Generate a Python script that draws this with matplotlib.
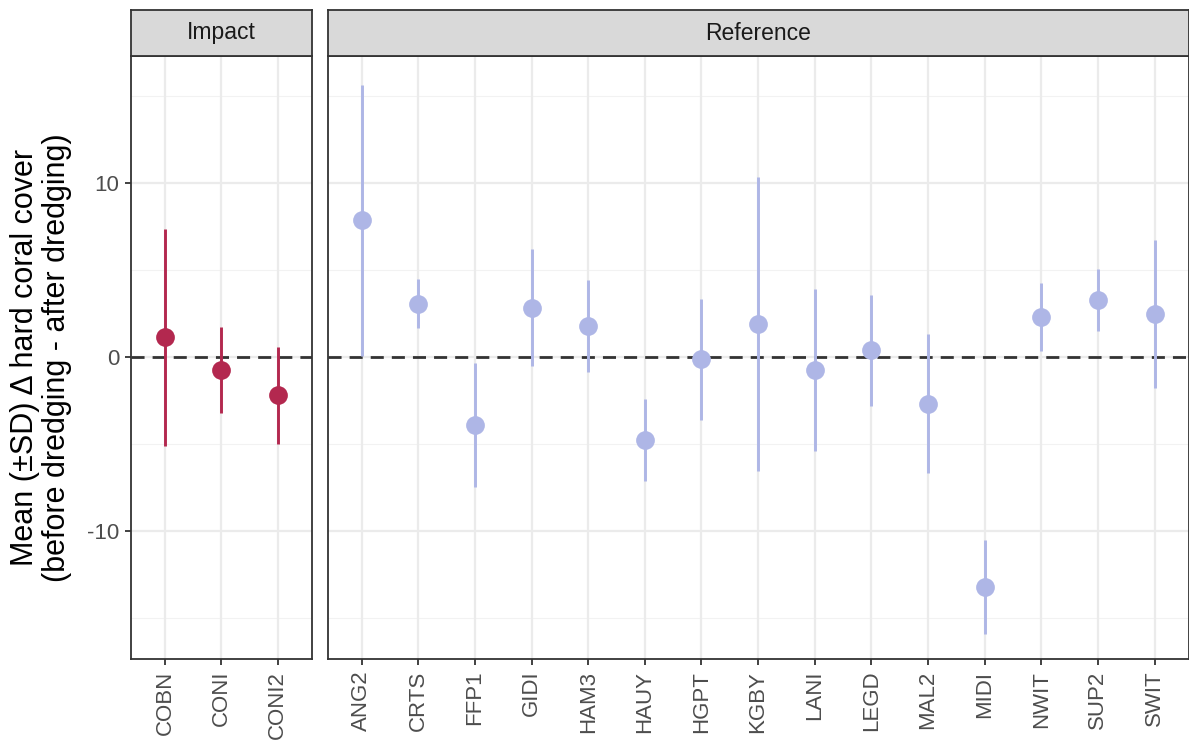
import matplotlib
matplotlib.use("Agg")
import matplotlib.pyplot as plt
import numpy as np

plt.rcParams['font.family'] = ['Liberation Sans', 'DejaVu Sans']

impact_sites = ["COBN", "CONI", "CONI2"]
impact_mean = [1.13, -0.74, -2.2]
impact_sd = [6.24, 2.47, 2.78]

ref_sites = ["ANG2", "CRTS", "FFP1", "GIDI", "HAM3", "HAUY", "HGPT", "KGBY",
             "LANI", "LEGD", "MAL2", "MIDI", "NWIT", "SUP2", "SWIT"]
ref_mean = [7.85, 3.07, -3.9, 2.82, 1.78, -4.76, -0.13, 1.89,
            -0.75, 0.39, -2.68, -13.2, 2.32, 3.3, 2.48]
ref_sd = [7.8, 1.4, 3.57, 3.36, 2.67, 2.36, 3.48, 8.46,
          4.65, 3.18, 3.98, 2.7, 1.95, 1.78, 4.25]

panel_titles = ["Impact", "Reference"]
colors = ["#B3284F", "#AEB6E6"]
y_ticks = [-10, 0, 10]
y_minor = [-15, -5, 5, 15]

W, H = 1189, 746
fig = plt.figure(figsize=(W / 100, H / 100), dpi=100)

top_px, bot_px = 56, 659
strip_top = 10
panels = [(131, 311.7), (327.7, 1188.5)]
ylim = (-17.36, 17.3)

data = [(impact_sites, impact_mean, impact_sd), (ref_sites, ref_mean, ref_sd)]
border = "#333333"

for i, ((l, r), (sites, means, sds)) in enumerate(zip(panels, data)):
    ax = fig.add_axes([l / W, 1 - bot_px / H, (r - l) / W, (bot_px - top_px) / H])
    x = np.arange(len(sites))
    ax.set_xlim(-0.6, len(sites) - 0.4)
    ax.set_ylim(*ylim)
    ax.set_facecolor("white")
    # grids
    for yv in y_minor:
        ax.axhline(yv, color="#F2F2F2", lw=0.8, zorder=0)
    for yv in y_ticks:
        ax.axhline(yv, color="#EBEBEB", lw=1.6, zorder=0)
    for xv in x:
        ax.axvline(xv, color="#EBEBEB", lw=1.6, zorder=0)
    # zero line
    ax.axhline(0, color="#333333", lw=2.0, dashes=(4.7, 2.9), zorder=1.5)
    m = np.array(means)
    s = np.array(sds)
    ax.vlines(x, m - s, m + s, color=colors[i], lw=2.1, zorder=2)
    ax.plot(x, m, 'o', color=colors[i], markersize=13.5, markeredgewidth=0, zorder=3)
    ax.set_xticks(x)
    ax.set_xticklabels(sites, rotation=90, fontsize=16, color="#4D4D4D")
    ax.tick_params(axis='x', length=4.5, width=1.3, color="#333333", pad=4)
    if i == 0:
        ax.set_yticks(y_ticks)
        ax.set_yticklabels([str(v) for v in y_ticks], fontsize=16, color="#4D4D4D")
        ax.tick_params(axis='y', length=4.5, width=1.3, color="#333333", pad=4)
    else:
        ax.set_yticks([])
    for sp in ax.spines.values():
        sp.set_color(border)
        sp.set_linewidth(1.3)
    # strip
    sax = fig.add_axes([l / W, 1 - top_px / H, (r - l) / W, (top_px - strip_top) / H])
    sax.set_facecolor("#D9D9D9")
    sax.set_xticks([])
    sax.set_yticks([])
    for sp in sax.spines.values():
        sp.set_color(border)
        sp.set_linewidth(1.3)
    sax.text(0.5, 0.5, panel_titles[i], transform=sax.transAxes, ha="center",
             va="center", fontsize=16.5, color="#1A1A1A")

fig.text(41 / W, 1 - ((top_px + bot_px) / 2) / H,
         "Mean (\u00b1SD) \u0394 hard coral cover\n(before dredging - after dredging)",
         rotation=90, ha="center", va="center", fontsize=22, color="black",
         linespacing=1.05)

fig.savefig("out.png", dpi=100)
